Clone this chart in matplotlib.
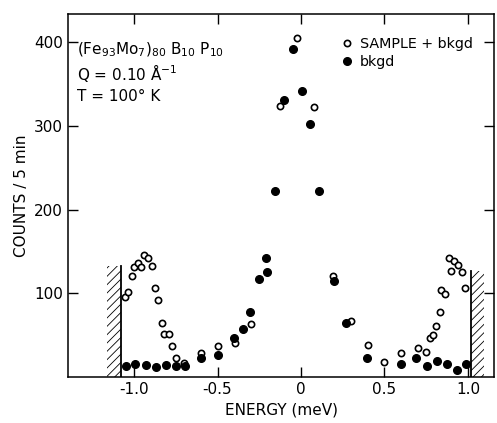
import numpy as np
import matplotlib.pyplot as plt
from matplotlib.patches import Rectangle

plt.rcParams['font.family'] = ['DejaVu Sans']
plt.rcParams['mathtext.fontset'] = 'dejavusans'
plt.rcParams['hatch.linewidth'] = 0.6

# SAMPLE + bkgd (open circles)
e_sample = [-1.054, -1.034, -1.010, -1.002, -0.978, -0.958, -0.940, -0.914, -0.892,
            -0.876, -0.858, -0.832, -0.820, -0.789, -0.771, -0.747, -0.699,
            -0.601, -0.499, -0.395, -0.297, -0.126, -0.026, 0.076, 0.192, 0.297,
            0.401, 0.499, 0.599, 0.701, 0.749, 0.770, 0.790, 0.806, 0.830, 0.838,
            0.864, 0.884, 0.900, 0.916, 0.942, 0.962, 0.984]
c_sample = [95, 102, 121, 131, 136, 131, 146, 142, 132.5,
            106, 92, 64, 51, 51.5, 37, 23, 16.7,
            28, 36.5, 40, 63, 324, 405, 323, 121, 67,
            38, 18, 28, 34, 30, 46, 50, 61, 78, 104,
            99, 142, 127, 138, 134, 125, 106]

# bkgd (filled circles)
e_bkgd = [-1.050, -0.994, -0.930, -0.870, -0.810, -0.750, -0.695,
          -0.601, -0.497, -0.403, -0.347, -0.303, -0.253, -0.210, -0.206,
          -0.158, -0.100, -0.050, 0.006, 0.056, 0.110, 0.196, 0.271,
          0.397, 0.599, 0.689, 0.753, 0.812, 0.872, 0.934, 0.988]
c_bkgd = [13, 15.5, 14, 11.5, 14, 12.5, 12.5,
          22, 26.5, 46, 57, 78, 117, 142, 125,
          222, 331, 392, 342, 302, 222, 115, 64,
          23, 16, 23, 13, 18.5, 15, 8, 15]

fig = plt.figure(figsize=(4.97, 4.23), dpi=100)
ax = fig.add_axes([0.137, 0.109, 0.857, 0.858])

ax.plot(e_sample, c_sample, 'o', mfc='white', mec='black', mew=1.2, ms=4.5,
        label='SAMPLE + bkgd')
ax.plot(e_bkgd, c_bkgd, 'o', color='black', ms=5.5, label='bkgd')

# hatched cut-off regions
ax.add_patch(Rectangle((-1.162, 0), 0.084, 133, fill=False, hatch='////',
                       lw=0, color='black'))
ax.plot([-1.078, -1.078], [0, 133], color='black', lw=1.3)
ax.add_patch(Rectangle((1.018, 0), 0.078, 127, fill=False, hatch='////',
                       lw=0, color='black'))
ax.plot([1.018, 1.018], [0, 127], color='black', lw=1.3)

ax.set_xlim(-1.395, 1.156)
ax.set_ylim(0, 434)
ax.set_xticks([-1.0, -0.5, 0, 0.5, 1.0])
ax.set_xticklabels(['-1.0', '-0.5', '0', '0.5', '1.0'])
ax.set_yticks([100, 200, 300, 400])
ax.tick_params(direction='in', length=7, width=1, top=True, right=True,
               labelsize=11)
for s in ax.spines.values():
    s.set_linewidth(1.1)

ax.set_xlabel('ENERGY (meV)', fontsize=11)
ax.set_ylabel('COUNTS / 5 min', fontsize=11)

ax.text(0.02, 0.9, r'(Fe$_{93}$Mo$_{7}$)$_{80}$ B$_{10}$ P$_{10}$',
        transform=ax.transAxes, fontsize=11, va='center')
ax.text(0.02, 0.837, r'Q = 0.10 $\mathrm{\AA}^{-1}$', transform=ax.transAxes,
        fontsize=11, va='center')
ax.text(0.02, 0.772, 'T = 100° K', transform=ax.transAxes, fontsize=11,
        va='center')

ax.legend(loc='upper left', bbox_to_anchor=(0.61, 0.965), frameon=False,
          fontsize=10.3, handletextpad=0.35, labelspacing=0.3, borderpad=0.2,
          handlelength=1.2)

fig.savefig('out.png', dpi=100)
